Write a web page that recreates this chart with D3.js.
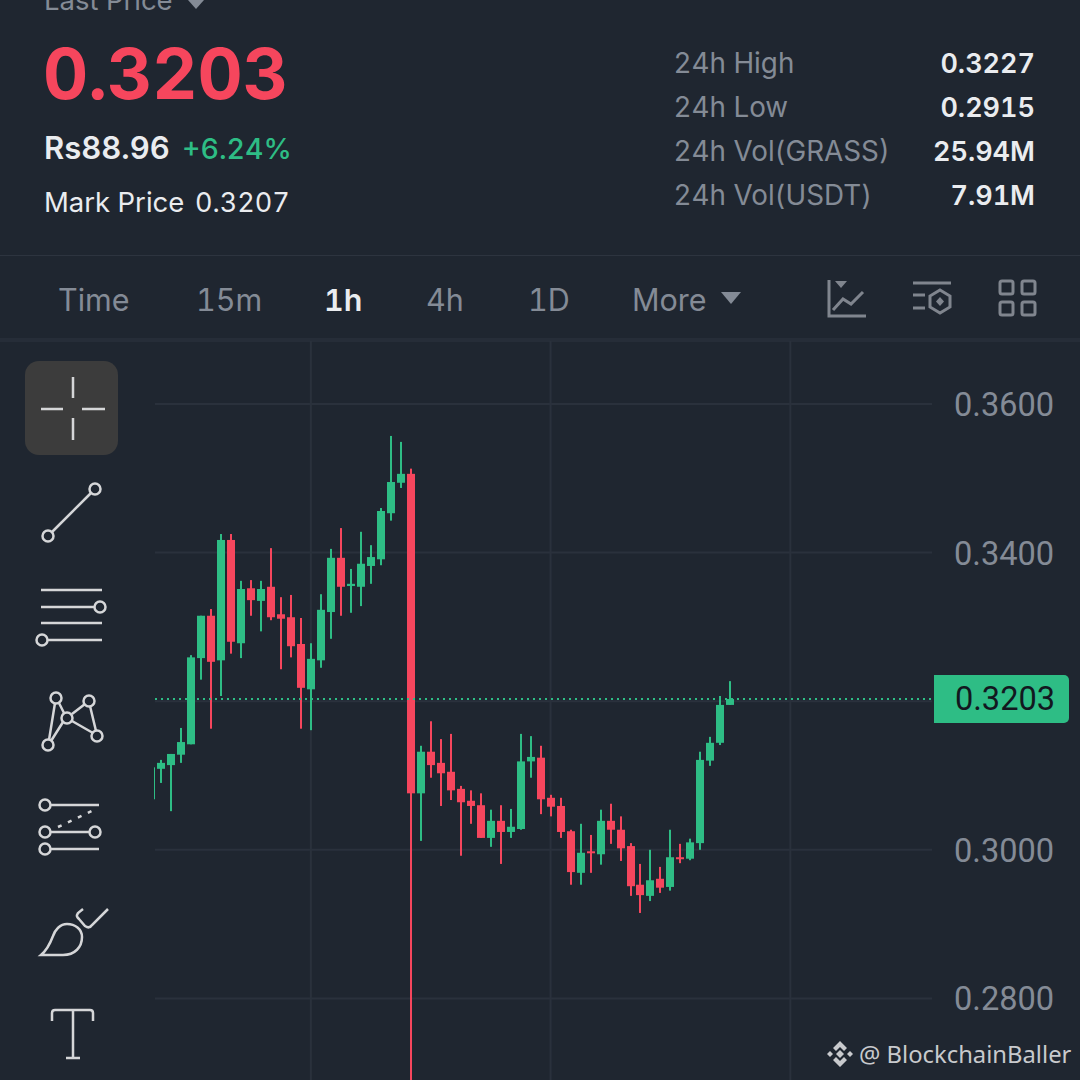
<!DOCTYPE html>
<html>
<head>
<meta charset="utf-8">
<script src="https://cdn.jsdelivr.net/npm/d3@7"></script>
<style>
  html, body { margin: 0; padding: 0; background: #1f2630; }
  svg { display: block; }
  text { font-family: Inter, sans-serif; font-feature-settings: 'tnum'; }
</style>
</head>
<body>
<div id="chart"></div>
<script>
// Candle values, first (clipped) candle is index -1
const firstIndex = -1;
const opens = [0.3068, 0.3109, 0.3114, 0.3128, 0.3142, 0.3258, 0.3315, 0.3255, 0.3417, 0.3278, 0.3352, 0.3335, 0.3354, 0.3317, 0.3313, 0.3277, 0.3216, 0.3255, 0.3320, 0.3393, 0.3355, 0.3354, 0.3382, 0.3391, 0.3453, 0.3494, 0.3506, 0.3076, 0.3132, 0.3117, 0.3105, 0.3082, 0.3066, 0.3060, 0.3016, 0.3039, 0.3024, 0.3028, 0.3119, 0.3124, 0.3070, 0.3059, 0.3025, 0.2969, 0.2998, 0.2994, 0.3039, 0.3027, 0.3005, 0.2953, 0.2938, 0.2961, 0.2950, 0.2990, 0.2988, 0.3009, 0.3120, 0.3144, 0.3195];
const highs = [0.3111, 0.3121, 0.3129, 0.3164, 0.3262, 0.3315, 0.3324, 0.3425, 0.3425, 0.3362, 0.3363, 0.3362, 0.3406, 0.3340, 0.3343, 0.3312, 0.3278, 0.3344, 0.3405, 0.3433, 0.3378, 0.3428, 0.3410, 0.3460, 0.3557, 0.3549, 0.3513, 0.3140, 0.3173, 0.3149, 0.3156, 0.3086, 0.3080, 0.3076, 0.3054, 0.3060, 0.3055, 0.3156, 0.3153, 0.3140, 0.3074, 0.3070, 0.3027, 0.3035, 0.3020, 0.3054, 0.3062, 0.3045, 0.3009, 0.2981, 0.3000, 0.2977, 0.3027, 0.3008, 0.3015, 0.3132, 0.3152, 0.3207, 0.3227];
const lows = [0.3068, 0.3090, 0.3052, 0.3117, 0.3142, 0.3229, 0.3163, 0.3207, 0.3264, 0.3258, 0.3315, 0.3294, 0.3309, 0.3243, 0.3259, 0.3163, 0.3161, 0.3245, 0.3284, 0.3315, 0.3319, 0.3328, 0.3358, 0.3383, 0.3443, 0.3487, 0.2650, 0.3012, 0.3097, 0.3059, 0.3067, 0.2992, 0.3035, 0.3016, 0.3004, 0.2981, 0.3016, 0.3027, 0.3097, 0.3048, 0.3045, 0.3016, 0.2953, 0.2953, 0.2969, 0.2980, 0.3008, 0.2985, 0.2938, 0.2915, 0.2931, 0.2942, 0.2945, 0.2982, 0.2986, 0.3000, 0.3113, 0.3141, 0.3195];
const closes = [0.3111, 0.3117, 0.3129, 0.3145, 0.3259, 0.3315, 0.3253, 0.3417, 0.3280, 0.3351, 0.3336, 0.3351, 0.3313, 0.3311, 0.3274, 0.3218, 0.3257, 0.3323, 0.3393, 0.3354, 0.3358, 0.3385, 0.3394, 0.3456, 0.3495, 0.3506, 0.3076, 0.3132, 0.3114, 0.3103, 0.3080, 0.3064, 0.3059, 0.3016, 0.3039, 0.3024, 0.3031, 0.3119, 0.3125, 0.3068, 0.3058, 0.3024, 0.2970, 0.2996, 0.2996, 0.3039, 0.3027, 0.3002, 0.2951, 0.2939, 0.2959, 0.2949, 0.2990, 0.2988, 0.3010, 0.3121, 0.3144, 0.3195, 0.3203];

const gridPrices = [0.36, 0.34, 0.32, 0.30, 0.28];
const axisPrices = [0.36, 0.34, 0.30, 0.28];
const gridCandles = [15, 39, 63];
const lastPrice = 0.3203;

const statLabels = ['24h High', '24h Low', '24h Vol(GRASS)', '24h Vol(USDT)'];
const statValues = ['0.3227', '0.2915', '25.94M', '7.91M'];
const tabLabels = ['Time', '15m', '1h', '4h', '1D', 'More'];
const tabLefts = [58, 197, 325, 427, 529, 633];

const RED = '#f6465d', GREEN = '#2ebd85', GREY = '#848b96', WHITE = '#eaecef', ICON = '#d5d6d8';

const svg = d3.select('#chart').append('svg')
    .attr('width', 1080)
    .attr('height', 1080);

svg.append('rect').attr('width', 1080).attr('height', 1080).attr('fill', '#1f2630');

// Escalas
const x = d3.scaleLinear().domain([0, 57]).range([161, 730.4]);
const y = d3.scaleLinear().domain([0.28, 0.36]).range([998.4, 404]);

// Separadores
svg.append('rect').attr('x', 0).attr('y', 255).attr('width', 1080).attr('height', 1).attr('fill', '#2d343f');
svg.append('rect').attr('x', 0).attr('y', 338).attr('width', 1080).attr('height', 4).attr('fill', '#262d38');

// Rejilla
svg.selectAll('.hgrid').data(gridPrices).enter().append('line')
    .attr('class', 'hgrid')
    .attr('x1', 155).attr('x2', 932)
    .attr('y1', d => y(d)).attr('y2', d => y(d))
    .attr('stroke', '#2a313c').attr('stroke-width', 2);
svg.selectAll('.vgrid').data(gridCandles).enter().append('line')
    .attr('class', 'vgrid')
    .attr('x1', d => x(d)).attr('x2', d => x(d))
    .attr('y1', 341).attr('y2', 1080)
    .attr('stroke', '#2a313c').attr('stroke-width', 2);

// Velas
svg.append('clipPath').attr('id', 'plot').append('rect')
    .attr('x', 154).attr('y', 342).attr('width', 780).attr('height', 738);

const candles = svg.append('g').attr('clip-path', 'url(#plot)')
    .selectAll('g').data(opens).enter().append('g')
    .attr('fill', (d, i) => closes[i] >= d ? GREEN : RED);

candles.append('rect')
    .attr('x', (d, i) => Math.round(x(i + firstIndex)) - 1)
    .attr('width', 2)
    .attr('y', (d, i) => y(highs[i]))
    .attr('height', (d, i) => y(lows[i]) - y(highs[i]));

candles.append('rect')
    .attr('x', (d, i) => Math.round(x(i + firstIndex)) - 4)
    .attr('width', 8)
    .attr('y', (d, i) => y(Math.max(d, closes[i])))
    .attr('height', (d, i) => Math.max(2, Math.abs(y(d) - y(closes[i]))));

// Linea del ultimo precio
svg.append('line')
    .attr('x1', 155).attr('x2', 932)
    .attr('y1', y(lastPrice)).attr('y2', y(lastPrice))
    .attr('stroke', GREEN).attr('stroke-width', 2).attr('stroke-dasharray', '2 4');

// Eje Y
const axis = svg.append('g')
    .attr('transform', 'translate(954,1)')
    .call(d3.axisRight(y).tickValues(axisPrices).tickFormat(d3.format('.4f')).tickSize(0).tickPadding(0));
axis.select('.domain').remove();
axis.selectAll('text')
    .style('font-family', 'Roboto, sans-serif')
    .style('font-size', '32.6px')
    .attr('fill', GREY);

// Etiqueta del precio
svg.append('path')
    .attr('d', 'M934 675H1064a5 5 0 0 1 5 5V718a5 5 0 0 1 -5 5H934Z')
    .attr('fill', GREEN);
svg.append('text')
    .attr('x', 1005).attr('y', 699).attr('dy', '0.33em')
    .attr('text-anchor', 'middle')
    .style('font-family', 'Roboto, sans-serif')
    .style('font-size', '32.6px')
    .attr('fill', '#12181f')
    .text(d3.format('.4f')(lastPrice));

// Cabecera
function label(px, py, txt, size, weight, color, anchor) {
    return svg.append('text')
        .attr('x', px).attr('y', py)
        .attr('text-anchor', anchor || 'start')
        .style('font-size', size + 'px')
        .style('font-weight', weight)
        .attr('fill', color)
        .text(txt);
}

label(44, 10, 'Last Price', 27.5, 400, GREY);
svg.append('path').attr('d', 'M188 0H204L196 9Z').attr('fill', GREY);
label(43, 99, '0.3203', 70, 700, RED);
label(44, 159, 'Rs88.96', 31, 600, WHITE);
label(182, 159, '+6.24%', 28.5, 500, GREEN);
label(44, 212, 'Mark Price', 27.5, 400, WHITE);
label(195, 212, '0.3207', 27, 400, WHITE);

statLabels.forEach((d, i) => {
    label(673.5, 73 + i * 44, d, 27.8, 400, GREY);
    label(1035, 73 + i * 44, statValues[i], 27, 600, WHITE, 'end');
});

tabLabels.forEach((d, i) => {
    label(tabLefts[i] - (i === 0 ? 0 : 1), 310.5, d, 30.5, d === '1h' ? 600 : 400, d === '1h' ? WHITE : GREY);
});
svg.append('path').attr('d', 'M721 292H741L731 304Z').attr('fill', GREY);

// Iconos de la barra superior
const topIcons = svg.append('g').attr('fill', 'none').attr('stroke', '#80858e').attr('stroke-width', 3);
topIcons.append('path').attr('d', 'M829 280V316H866');
topIcons.append('path').attr('d', 'M833 310L843 299L851 304L863 292');
topIcons.append('path').attr('d', 'M835 281H847L841 288Z').attr('fill', '#80858e').attr('stroke', 'none');
topIcons.append('path').attr('d', 'M913 283H951M913 295H925M913 308H925');
topIcons.append('path').attr('d', 'M940 290L950 296V307L940 313L930 307V296Z');
topIcons.append('path').attr('d', 'M940 297L944 301.5L940 306L936 301.5Z').attr('fill', '#80858e').attr('stroke', 'none');
[[1000, 281], [1022, 281], [1000, 302], [1022, 302]].forEach(p => {
    topIcons.append('rect').attr('x', p[0]).attr('y', p[1]).attr('width', 13).attr('height', 13).attr('rx', 2);
});

// Herramientas de dibujo
svg.append('rect').attr('x', 25).attr('y', 361).attr('width', 93).attr('height', 94).attr('rx', 14).attr('fill', '#3c3c3c');
const tools = svg.append('g').attr('fill', 'none').attr('stroke', ICON).attr('stroke-width', 2.5);
const toolLines = [
    'M73 377V398M73 418V440M41 409H63M82 409H105',
    'M91 493L52 532',
    'M41 590H102M41 607H94M41 623H102M48 640H102',
    'M55 703L49 740M59 703L64 713M63 722L51 741M72 714L85 704M90 706L96 731M72 721L93 733',
    'M50 805H99M50 832H90M50 849H99',
    'M41 955H63C75 955 82 947 82 937C82 929 75 924 67 924C60 924 55 930 53 936C50 944 47 950 41 955Z',
    'M83 909L78 913C76 916 77 917 79 919L85 926C88 928 90 928 92 925L108 909',
    'M52 1021V1013Q52 1010 55 1010H90Q93 1010 93 1013V1021M73 1010V1058M66 1058H80'
];
toolLines.forEach(d => tools.append('path').attr('d', d));
tools.append('path').attr('d', 'M58 827L94 810').attr('stroke-dasharray', '4 7');
[[95, 489], [48, 536], [100, 607], [42, 640], [56, 698], [89, 701], [67, 718], [97, 736], [48, 745], [45, 805], [45, 832], [95, 832], [45, 849]].forEach(c => {
    tools.append('circle').attr('cx', c[0]).attr('cy', c[1]).attr('r', 5.5);
});

// Marca de agua
const mark = svg.append('g').attr('fill', '#c8cacd');
mark.append('path').attr('d', 'M840 1041L847 1048L844 1051L840 1047L836 1051L833 1048Z');
mark.append('path').attr('d', 'M840 1067L847 1060L844 1057L840 1061L836 1057L833 1060Z');
mark.append('path').attr('d', 'M840 1050L844 1054L840 1058L836 1054Z');
mark.append('path').attr('d', 'M830 1051L833 1054L830 1057L827 1054Z');
mark.append('path').attr('d', 'M850 1051L853 1054L850 1057L847 1054Z');
label(859, 1063, '@ BlockchainBaller', 23.8, 400, '#c8cacd').style('font-family', '"Noto Sans", sans-serif');
</script>
</body>
</html>
